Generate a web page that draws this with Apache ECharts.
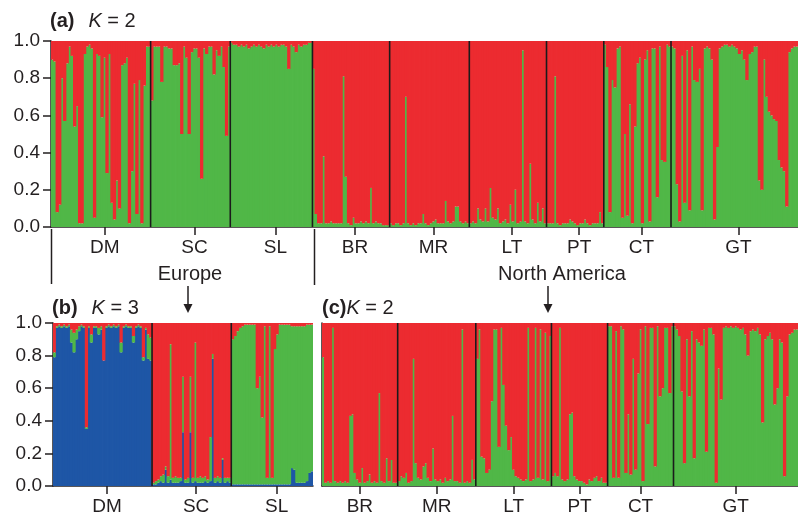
<!DOCTYPE html>
<html>
<head>
<meta charset="utf-8">
<script src="https://cdn.jsdelivr.net/npm/echarts@6/dist/echarts.min.js"></script>
<style>
  html, body { margin: 0; padding: 0; background: #fff; }
  #main { width: 798px; height: 518px; }
</style>
</head>
<body>
<div id="main"></div>
<script>
// population names
const popsEurope = ['DM', 'SC', 'SL'];
const popsNA = ['BR', 'MR', 'LT', 'PT', 'CT', 'GT'];
const yTicks = [0, 0.2, 0.4, 0.6, 0.8, 1.0];

// (a) K = 2 : share of the green cluster, one value per individual
const aDM = [0.9,0.89,0.08,0.12,0.8,0.57,0.88,0.97,0.92,0.54, 0.65,0.02,0.02,0.93,0.97,0.98,0.96,0.05,0.93,0.92,
  0.59,0.91,0.29,0.93,0.13,0.04,0.25,0.1,0.87,0.88, 0.91,0.02,0.3,0.77,0.07,0.79,0.02,0.76,0.97,0.97];
const aSC = [0.68,0.97,0.97,0.97,0.78,0.97,0.97,0.96,0.96,0.87, 0.87,0.88,0.5,0.97,0.91,0.5,0.94,0.96,0.96,0.91,
  0.26,0.96,0.93,0.97,0.97,0.82,0.95,0.92,0.97,0.86, 0.49,0.97];
const aSL = [0.99,0.98,0.98,0.97,0.98,0.97,0.98,0.96,0.97,0.98, 0.97,0.98,0.97,0.96,0.98,0.97,0.98,0.97,0.98,0.97,
  0.98,0.98,0.97,0.85,0.98,0.97,0.94,0.98,0.97,0.98, 0.98,0.99,0.99];
const aBR = [0.85,0.07,0.02,0.02,0.38,0.02,0.02,0.03,0.02,0.02, 0.02,0.02,0.81,0.27,0.02,0.01,0.05,0.02,0.02,0.03,
  0.02,0.03,0.02,0.21,0.02,0.03,0.02,0.02,0.01,0.01, 0.01];
const aMR = [0.02,0.01,0.02,0.02,0.01,0.02,0.7,0.02,0.01,0.02, 0.01,0.02,0.02,0.07,0.02,0.01,0.02,0.03,0.04,0.02,
  0.02,0.02,0.14,0.03,0.02,0.03,0.11,0.11,0.03,0.02, 0.03,0.02];
const aLT = [0.02,0.03,0.02,0.1,0.04,0.03,0.1,0.03,0.21,0.05, 0.04,0.1,0.02,0.03,0.04,0.02,0.12,0.03,0.2,0.02,
  0.03,0.95,0.03,0.02,0.34,0.04,0.02,0.13,0.03,0.1, 0.02];
const aPT = [0.02,0.02,0.02,0.81,0.02,0.01,0.02,0.02,0.02,0.04, 0.03,0.02,0.01,0.02,0.02,0.04,0.02,0.01,0.02,0.02,
  0.02,0.08,0.02];
const aCT = [0.98,0.86,0.08,0.79,0.75,0.96,0.97,0.05,0.5,0.06, 0.66,0.02,0.54,0.88,0.91,0.02,0.9,0.95,0.03,0.96,
  0.96,0.16,0.97,0.36,0.35,0.98,0.97];
const aGT = [0.97,0.96,0.23,0.03,0.92,0.13,0.95,0.09,0.97,0.79, 0.78,0.85,0.09,0.96,0.97,0.96,0.9,0.04,0.43,0.96,
  0.97,0.98,0.98,0.97,0.98,0.97,0.96,0.93,0.95,0.9, 0.79,0.93,0.94,0.97,0.97,0.25,0.2,0.9,0.7,0.62,
  0.6,0.58,0.57,0.36,0.32,0.3,0.11,0.94,0.96,0.97, 0.97];

// (b) K = 3 : blue and green cluster shares (red is the rest)
const bDMblue = [0.79,0.97,0.98,0.97,0.98,0.97,0.98,0.88,0.82,0.9, 0.95,0.98,0.97,0.35,0.97,0.88,0.97,0.97,0.93,0.96,
  0.77,0.97,0.98,0.97,0.98,0.97,0.98,0.82,0.97,0.98, 0.97,0.97,0.88,0.97,0.98,0.97,0.77,0.96,0.78,0.77];
const bDMgreen = [0.03,0.01,0.01,0.01,0.01,0.01,0.01,0.08,0.12,0.06, 0.03,0.01,0.01,0.01,0.01,0.05,0.01,0.01,0.04,0.02,
  0,0.01,0.01,0.01,0.01,0.01,0.01,0.06,0.01,0.01, 0.01,0.01,0.04,0.01,0.01,0.01,0.02,0.01,0.15,0.14];
const bSCblue = [0.01,0.01,0.02,0.03,0.02,0.1,0.02,0.04,0.02,0.02, 0.02,0.03,0.33,0.02,0.02,0.33,0.02,0.03,0.02,0.02,
  0.02,0.03,0.02,0.03,0.78,0.02,0.03,0.02,0.16,0.02, 0.03,0.02];
const bSCgreen = [0.01,0.02,0.02,0.03,0.05,0.02,0.04,0.83,0.03,0.04, 0.03,0.02,0.34,0.02,0.03,0.34,0.03,0.85,0.03,0.04,
  0.03,0.03,0.02,0.27,0.03,0.03,0.03,0.03,0.01,0.03, 0.02,0.03];
const bSLblue = [0.01,0.01,0.01,0.01,0.01,0.01,0.01,0.01,0.01,0.01, 0.01,0.01,0.01,0.01,0.01,0.01,0.01,0.01,0.01,0.01,
  0.01,0.01,0.01,0.01,0.11,0.1,0.02,0.02,0.02,0.02, 0.03,0.08,0.09];
const bSLgreen = [0.89,0.91,0.94,0.96,0.97,0.98,0.98,0.98,0.98,0.98, 0.59,0.66,0.41,0.97,0.04,0.97,0.04,0.83,0.92,0.98,
  0.98,0.98,0.98,0.98,0.87,0.88,0.96,0.96,0.96,0.96, 0.96,0.91,0.9];

// (c) K = 2, North America only : green cluster share
const cBR = [0.79,0.02,0.03,0.02,0.97,0.03,0.02,0.03,0.02,0.03, 0.02,0.43,0.44,0.08,0.04,0.02,0.11,0.02,0.03,0.07,
  0.02,0.03,0.02,0.57,0.03,0.02,0.17,0.03,0.16,0.02, 0.02];
const cMR = [0.03,0.06,0.05,0.08,0.02,0.03,0.78,0.14,0.05,0.04, 0.12,0.14,0.05,0.03,0.23,0.04,0.03,0.04,0.02,0.05,
  0.03,0.04,0.43,0.03,0.03,0.02,0.96,0.02,0.03,0.02, 0.16,0.04];
const cLT = [0.78,0.96,0.18,0.17,0.08,0.1,0.52,0.96,0.96,0.24, 0.97,0.62,0.37,0.22,0.3,0.1,0.06,0.05,0.04,0.03,
  0.04,0.97,0.03,0.04,0.97,0.05,0.96,0.04,0.94,0.03, 0.92];
const cPT = [0.06,0.08,0.06,0.97,0.04,0.03,0.04,0.44,0.45,0.06, 0.04,0.03,0.03,0.02,0.01,0.04,0.03,0.05,0.06,0.03,
  0.05,0.02,0.02];
const cCT = [0.98,0.98,0.05,0.95,0.05,0.98,0.96,0.08,0.44,0.07, 0.78,0.1,0.69,0.96,0.03,0.98,0.38,0.97,0.97,0.12,
  0.98,0.55,0.6,0.97,0.97,0.57,0.98];
const cGT = [0.98,0.96,0.92,0.58,0.14,0.9,0.55,0.95,0.17,0.9, 0.88,0.86,0.96,0.21,0.97,0.97,0.93,0.02,0.72,0.53,
  0.97,0.98,0.97,0.98,0.97,0.98,0.97,0.96,0.97,0.93, 0.8,0.95,0.96,0.95,0.97,0.93,0.39,0.9,0.92,0.94,
  0.9,0.5,0.6,0.9,0.88,0.06,0.55,0.93,0.94,0.96, 0.96];

const FONT = '"Liberation Sans", Arial, Helvetica, sans-serif';
const RED = '#ec2b30', GREEN = '#50b747', BLUE = '#1e56a6', INK = '#231f20';

// cumulative layout of the populations along one panel
function layout(groups, shift) {
  const counts = groups.map(g => g.length);
  let s = 0;
  const starts = counts.map(c => { const st = s; s += c; return st; });
  return {
    total: s,
    bounds: starts.slice(1),
    mids: starts.map((st, i) => st + counts[i] / 2 + shift)
  };
}

const panels = [
  { groups: [aDM, aSC, aSL, aBR, aMR, aLT, aPT, aCT, aGT], names: popsEurope.concat(popsNA), shift: 1.6,
    grid: { left: 51, top: 41, width: 750, height: 186 }, yLabels: true },
  { groups: [bDMblue, bSCblue, bSLblue], names: popsEurope, shift: 1.8,
    grid: { left: 53, top: 323, width: 260, height: 163 }, yLabels: true },
  { groups: [cBR, cMR, cLT, cPT, cCT, cGT], names: popsNA, shift: 0,
    grid: { left: 322, top: 323, width: 479, height: 163 }, yLabels: false }
];
panels.forEach(p => Object.assign(p, layout(p.groups, p.shift)));

const grid = panels.map(p => p.grid);
const xAxis = [];
const yAxis = [];
panels.forEach((p, gi) => {
  xAxis.push({
    type: 'category', gridIndex: gi, data: Array.from({ length: p.total }, (_, i) => i),
    axisLine: { show: true, lineStyle: { color: INK, width: 1.5 } },
    axisTick: { show: false }, axisLabel: { show: false }, splitLine: { show: false }
  });
  yAxis.push({
    type: 'value', gridIndex: gi, min: 0, max: 1, interval: 0.2,
    axisLine: { show: true, lineStyle: { color: INK, width: 1.5 } },
    axisTick: { show: p.yLabels, length: 8, lineStyle: { color: INK, width: 1.5 } },
    axisLabel: {
      show: p.yLabels, margin: 11, fontSize: 19, fontFamily: FONT, color: INK,
      formatter: v => yTicks.indexOf(v) >= 0 ? v.toFixed(1) : ''
    },
    splitLine: { show: false }
  });
});
panels.forEach((p, gi) => {
  xAxis.push({
    type: 'value', gridIndex: gi, min: 0, max: p.total, position: 'bottom',
    axisLine: { show: false }, splitLine: { show: false },
    axisTick: { show: true, length: 8, customValues: p.mids, lineStyle: { color: INK, width: 1.5 } },
    axisLabel: {
      show: true, customValues: p.mids, margin: 11, fontSize: 19, fontFamily: FONT, color: INK,
      formatter: v => {
        let best = 0;
        p.mids.forEach((m, i) => { if (Math.abs(m - v) < Math.abs(p.mids[best] - v)) best = i; });
        return p.names[best];
      }
    }
  });
});

// bars slightly wider than their band so neighbours overlap and no seams show
function bar(data, gi, color) {
  const p = panels[gi];
  return {
    type: 'bar', data, xAxisIndex: gi, yAxisIndex: gi, stack: 'p' + gi,
    barWidth: p.grid.width / p.total + 0.8, barGap: '-100%', silent: true,
    itemStyle: { color }
  };
}
function boundaries(p, gi) {
  return {
    type: 'custom', xAxisIndex: gi + 3, yAxisIndex: gi, z: 5, silent: true,
    data: p.bounds.map(b => [b, 0]),
    renderItem: (params, api) => {
      const a = api.coord([api.value(0), 0]);
      const b = api.coord([api.value(0), 1]);
      return { type: 'line', shape: { x1: a[0], y1: a[1], x2: b[0], y2: b[1] },
        style: { stroke: '#1b1b1b', lineWidth: 1.6 } };
    }
  };
}

const series = [];
// (a)
const aGreen = [].concat(...panels[0].groups);
series.push(bar(aGreen, 0, GREEN), bar(aGreen.map(v => +(1 - v).toFixed(3)), 0, RED));
// (b)
const bBlue = [].concat(bDMblue, bSCblue, bSLblue);
const bGreen = [].concat(bDMgreen, bSCgreen, bSLgreen);
series.push(bar(bBlue, 1, BLUE), bar(bGreen, 1, GREEN),
  bar(bBlue.map((v, i) => +(1 - v - bGreen[i]).toFixed(3)), 1, RED));
// (c)
const cGreen = [].concat(...panels[2].groups);
series.push(bar(cGreen, 2, GREEN), bar(cGreen.map(v => +(1 - v).toFixed(3)), 2, RED));
panels.forEach((p, gi) => series.push(boundaries(p, gi)));

const rich = {
  b: { fontWeight: 'bold', fontSize: 20, fontFamily: FONT, fill: INK },
  s: { fontSize: 20, fontFamily: FONT, fill: INK, width: 14 },
  i: { fontStyle: 'italic', fontSize: 20, fontFamily: FONT, fill: INK },
  n: { fontSize: 20, fontFamily: FONT, fill: INK }
};
function title(x, y, text) {
  return { type: 'text', x, y, style: { text, rich, verticalAlign: 'middle', fill: INK } };
}
function label(x, y, text) {
  return { type: 'text', x, y, style: { text, fontSize: 20, fontFamily: FONT, fill: INK, align: 'center', verticalAlign: 'middle' } };
}
function vline(x, y1, y2) {
  return { type: 'line', shape: { x1: x, y1, x2: x, y2 }, style: { stroke: INK, lineWidth: 1.5 } };
}
function arrow(x, y1, y2) {
  return [vline(x, y1, y2 - 6),
    { type: 'polygon', shape: { points: [[x - 4.5, y2 - 9], [x + 4.5, y2 - 9], [x, y2]] }, style: { fill: INK } }];
}

const graphic = [
  title(50, 21, '{b|(a)}{s| }{i|K}{n| = 2}'),
  title(52, 308, '{b|(b)}{s| }{i|K}{n| = 3}'),
  title(322, 308, '{b|(c)}{i|K}{n| = 2}'),
  label(190, 274, 'Europe'),
  label(562, 274, 'North America'),
  vline(51.5, 229, 284),
  vline(314.5, 229, 285),
  ...arrow(188, 286, 313),
  ...arrow(548, 286, 313)
];

const chart = echarts.init(document.getElementById('main'), null, { renderer: 'canvas' });
chart.setOption({
  animation: false,
  backgroundColor: '#fff',
  grid, xAxis, yAxis, series, graphic
});
</script>
</body>
</html>
